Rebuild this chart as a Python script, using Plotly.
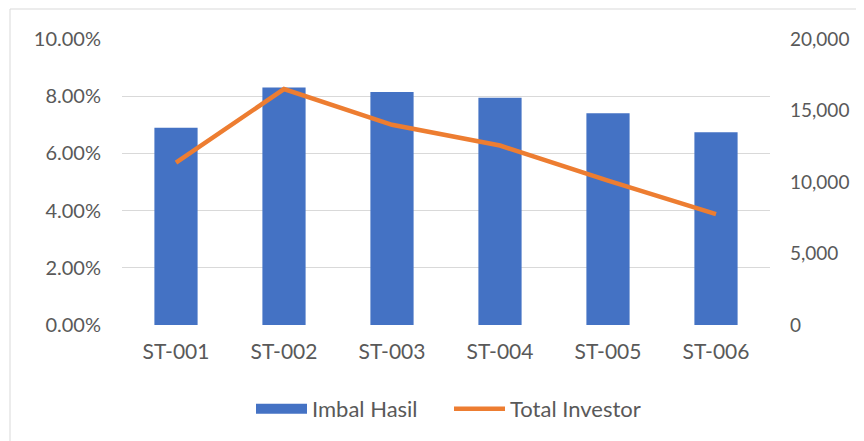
import plotly.graph_objects as go

categories = ["ST-001", "ST-002", "ST-003", "ST-004", "ST-005", "ST-006"]
imbal_hasil = [0.0690, 0.0830, 0.0815, 0.0795, 0.0740, 0.0674]
total_investor = [11350, 16500, 14000, 12550, 10100, 7750]
left_ticks = [0, 0.02, 0.04, 0.06, 0.08, 0.10]
right_ticks = [0, 5000, 10000, 15000, 20000]

BLUE = "#4472C4"
ORANGE = "#ED7D31"
GREY = "#D9D9D9"

# page body has an 8px margin, so the figure is drawn 8px in from the window edge
OFF = 8
W, H = 864 - OFF, 441 - OFF
L, T = 122 - OFF, 39 - OFF
pw, ph = 648, 286
R, B = W - L - pw, H - T - ph

def px_x(sx):
    return (sx - OFF - L) / pw

def px_y(sy):
    return (T + ph - (sy - OFF)) / ph

FAM = "Lato, 'Open Sans', sans-serif"
font = dict(family=FAM, size=20, color="#595959")

fig = go.Figure()
fig.add_trace(go.Bar(x=categories, y=imbal_hasil, name="Imbal Hasil",
                     marker=dict(color=BLUE, line=dict(width=0)), yaxis="y",
                     showlegend=False))
# legend proxy for the bar series (wide rectangle as in the original)
fig.add_trace(go.Scatter(x=[None], y=[None], name="Imbal Hasil", mode="lines",
                         line=dict(color=BLUE, width=14), yaxis="y"))
fig.add_trace(go.Scatter(x=categories, y=total_investor, name="Total Investor",
                         mode="lines", line=dict(color=ORANGE, width=4.5),
                         yaxis="y2"))

fig.update_layout(
    template="none",
    width=W, height=H,
    margin=dict(l=L, r=R, t=T, b=B, autoexpand=False),
    paper_bgcolor="white", plot_bgcolor="white",
    font=font,
    bargap=0.6,
    showlegend=True,
    legend=dict(orientation="h", x=px_x(251), xanchor="left", y=px_y(409), yanchor="middle",
                font=dict(family=FAM, size=22, color="#595959"),
                itemwidth=51, entrywidth=132, entrywidthmode="pixels",
                traceorder="normal", bgcolor="rgba(0,0,0,0)"),
    xaxis=dict(showline=False, ticks="", showgrid=False,
               zeroline=False, automargin=False, ticklabelstandoff=12,
               tickfont=dict(family=FAM, size=21, color="#595959")),
    yaxis=dict(range=[0, 0.10], tickvals=left_ticks, tickformat=".2%",
               showgrid=True, gridcolor=GREY, gridwidth=1, zeroline=False,
               showline=False, ticks="", automargin=False,
               ticklabelstandoff=20, tickfont=font),
    yaxis2=dict(range=[0, 20000], tickvals=right_ticks, tickformat=",d",
                overlaying="y", side="right", showgrid=False, zeroline=False,
                showline=False, ticks="", automargin=False,
                ticklabelstandoff=19, tickfont=dict(family=FAM, size=19, color="#595959")),
    shapes=[
        dict(type="line", xref="paper", yref="paper",
             x0=px_x(10), x1=px_x(10), y0=px_y(470), y1=px_y(9),
             line=dict(color=GREY, width=1), layer="below"),
        dict(type="line", xref="paper", yref="paper",
             x0=px_x(10), x1=px_x(880), y0=px_y(9), y1=px_y(9),
             line=dict(color=GREY, width=1), layer="below"),
    ],
)

fig.write_html("out.html", config={"staticPlot": True})
